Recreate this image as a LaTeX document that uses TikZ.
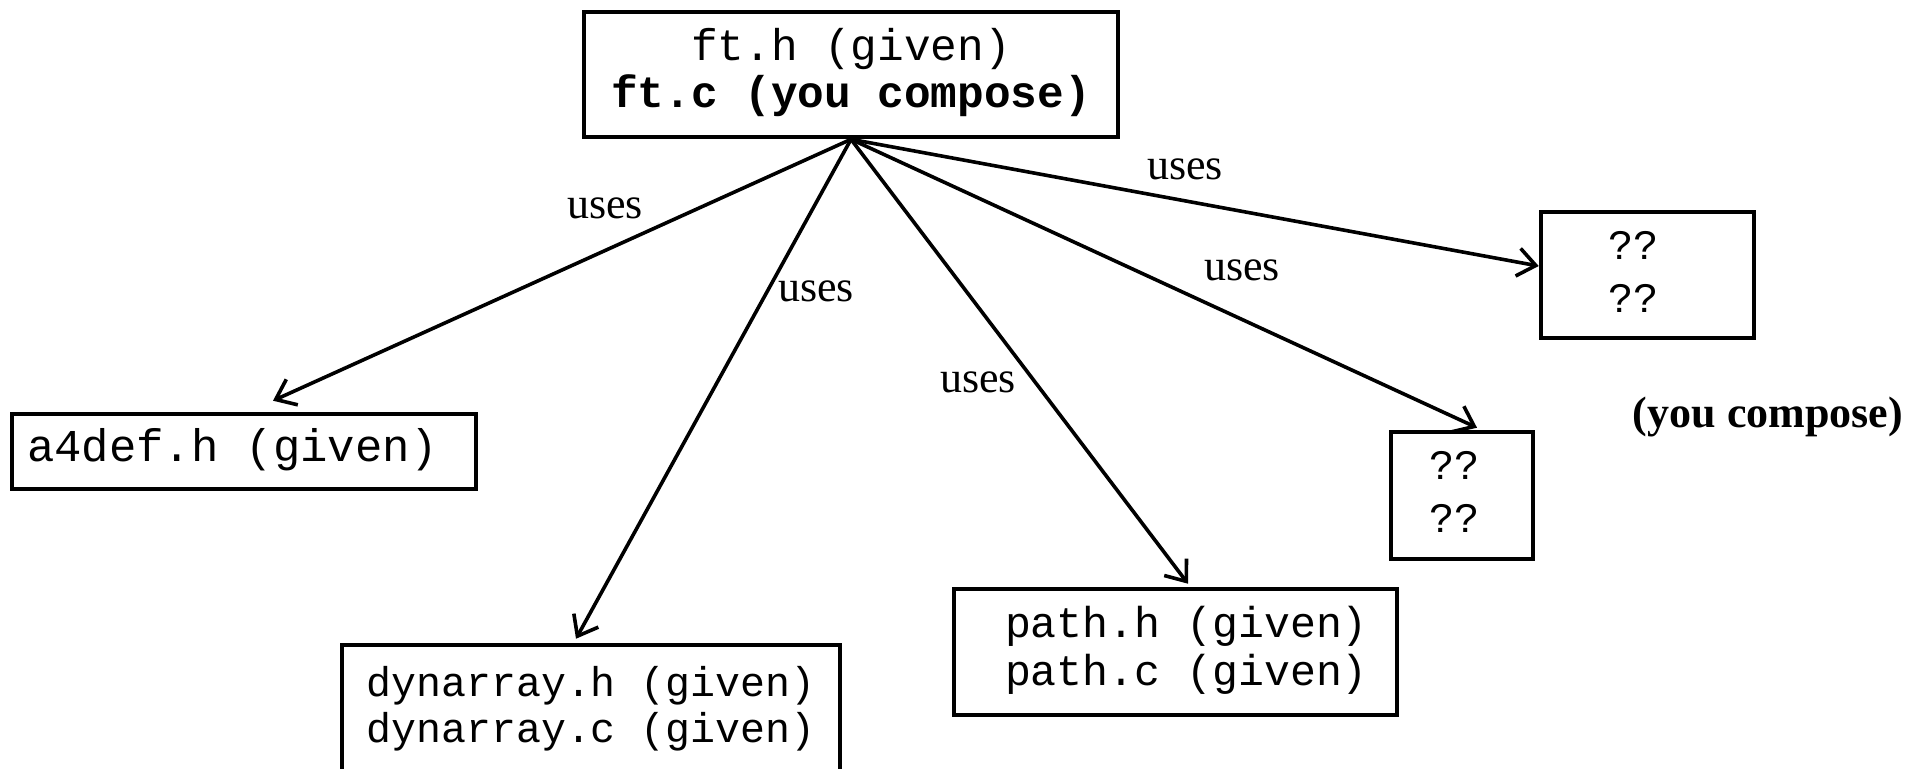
\documentclass[tikz,border=0pt]{standalone}
\usepackage{fontspec}
\setmainfont{Liberation Serif}
\setmonofont{Liberation Mono}
\usetikzlibrary{arrows.meta,calc}
\newcommand\boxtext[3]{\makebox[#1][l]{\hspace*{#2}\begin{tabular}{@{}l@{}}#3\end{tabular}}}
\tikzset{
  filebox/.style={draw, line width=2.3pt, inner sep=0pt, font=\ttfamily\fontsize{21}{23}\selectfont},
  uses/.style={inner sep=0pt, font=\fontsize{22}{24}\selectfont},
  link/.style={line width=1.8pt, -{Straight Barb[length=9pt,width=14pt]}}
}
\begin{document}
\begin{tikzpicture}[x=0.5pt,y=-0.5pt]
\clip (0,0) rectangle (1925,768);
\useasboundingbox (0,0) rectangle (1925,768);
\node[filebox, minimum width=267pt, minimum height=62.5pt, font=\ttfamily\fontsize{22.2}{23}\selectfont] (top) at (851,74.5)
  {\begin{tabular}{@{}c@{}}ft.h (given)\\\textbf{ft.c (you compose)}\end{tabular}};
\node[filebox, minimum width=232pt, minimum height=37.5pt, font=\ttfamily\fontsize{22.8}{24}\selectfont] (a4def) at (244,451.5)
  {\boxtext{232pt}{7.5pt}{a4def.h (given)}};
\node[filebox, minimum width=249pt, minimum height=65.5pt, font=\ttfamily\fontsize{20.8}{23}\selectfont] (dyn) at (591,710.5)
  {\begin{tabular}{@{}l@{}}dynarray.h (given)\\dynarray.c (given)\end{tabular}};
\node[filebox, minimum width=221.5pt, minimum height=63pt, font=\ttfamily\fontsize{21.6}{24}\selectfont] (path) at (1175.5,652)
  {\boxtext{221.5pt}{25.5pt}{path.h (given)\\path.c (given)}};
\node[filebox, minimum width=106.5pt, minimum height=63pt, font=\ttfamily\fontsize{21}{26.5}\selectfont] (q1) at (1647.5,275)
  {\boxtext{106.5pt}{33.5pt}{??\\??}};
\node[filebox, minimum width=71pt, minimum height=63.5pt, font=\ttfamily\fontsize{21}{26.5}\selectfont] (q2) at (1462,495.5)
  {\boxtext{71pt}{19pt}{??\\??}};
\node[inner sep=0pt, font=\bfseries\fontsize{22}{24}\selectfont] (compose) at (1768,417) {(you compose)};

\draw[link] (top.south) -- ($(a4def.north)+(29,-11)$);
\draw[link] (top.south) -- ($(dyn.north)+(-15,-4)$);
\draw[link] (top.south) -- ($(path.north)+(12.5,-3)$);
\draw[link] (top.south) -- ($(q1.west)+(0,-9)$);
\draw[link] (top.south) -- ($(q2.north)+(15,-2)$);

\node[uses] (u1) at (605,208) {uses};
\node[uses] (u2) at (816,291) {uses};
\node[uses] (u3) at (978,382) {uses};
\node[uses] (u4) at (1242,270) {uses};
\node[uses] (u5) at (1185,169) {uses};
\end{tikzpicture}
\end{document}
